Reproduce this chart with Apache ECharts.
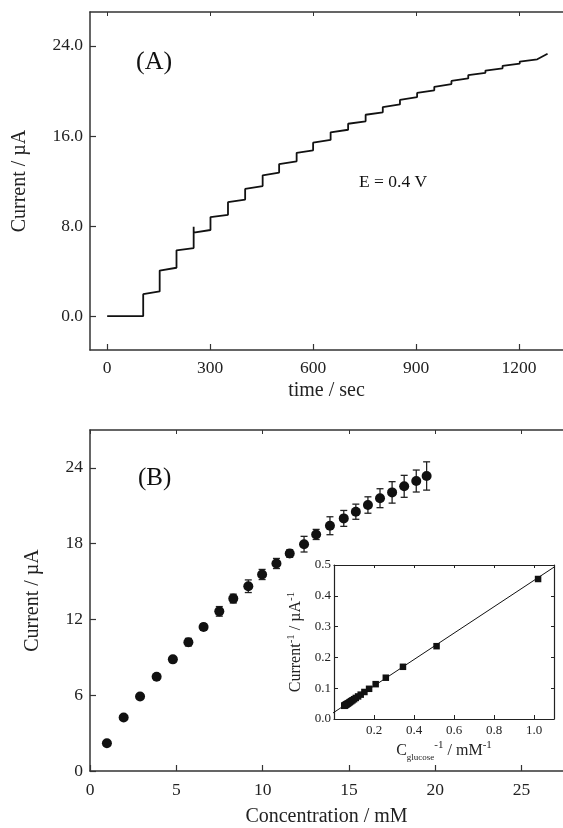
<!DOCTYPE html>
<html><head><meta charset="utf-8">
<script src="https://cdn.jsdelivr.net/npm/echarts@6/dist/echarts.min.js"></script>
<style>html,body{margin:0;padding:0;background:#fff}#c{width:563px;height:828px}</style>
</head><body><div id="c"></div>
<script>
const FONT = 'Liberation Serif';
// Panel A: amperometric staircase
const stepTimes = [105,153,202,252,301,352,402,453,501,552,600,651,702,753,803,853,903,953,1003,1052,1102,1152,1202,1253];
const plateauStart = [1.95,4.05,5.85,7.42,8.8,10.12,11.3,12.5,13.5,14.5,15.4,16.32,17.08,17.88,18.56,19.2,19.82,20.36,20.88,21.4,21.8,22.22,22.6,22.95];
const plateauEnd = [2.2,4.3,6.05,7.65,9.0,10.35,11.55,12.75,13.75,14.72,15.65,16.55,17.3,18.1,18.8,19.45,20.05,20.6,21.1,21.6,22.0,22.42,22.8,23.3];
const traceStart = [0, 0];
const traceEndTime = 1283;
const spikeStep = 3, spikeValue = 7.95;
const aXTicks = [0,300,600,900,1200];
const aYTicks = [0,8,16,24];
// Panel B: calibration
const conc = [0.98,1.95,2.9,3.86,4.8,5.7,6.58,7.49,8.3,9.17,9.97,10.8,11.57,12.4,13.1,13.9,14.7,15.4,16.1,16.8,17.5,18.2,18.9,19.5];
const current = [2.2,4.23,5.9,7.46,8.84,10.2,11.4,12.64,13.65,14.63,15.56,16.43,17.22,17.96,18.73,19.42,20.0,20.53,21.06,21.6,22.06,22.54,22.96,23.36];
const errs = [0.15,0.15,0.15,0.2,0.2,0.3,0.25,0.38,0.35,0.5,0.4,0.4,0.3,0.62,0.4,0.71,0.63,0.6,0.65,0.75,0.85,0.87,0.87,1.12];
const bXTicks = [0,5,10,15,20,25];
const bYTicks = [0,6,12,18,24];
// Inset: Lineweaver-Burk
const fitX = [-0.06, 1.1];
const fitY = [-0.004, 0.493];
const inXTicks = [0.2,0.4,0.6,0.8,1.0];
const inYTicks = [0,0.1,0.2,0.3,0.4,0.5];

// build staircase trace from step arrays
const trace = [traceStart];
let prev = 0;
stepTimes.forEach((t, i) => {
  trace.push([t, prev]);
  if (i === spikeStep) trace.push([t, spikeValue]);
  trace.push([t, plateauStart[i]]);
  const tEnd = i < stepTimes.length - 1 ? stepTimes[i + 1] : traceEndTime;
  trace.push([tEnd, plateauEnd[i]]);
  prev = plateauEnd[i];
});
const pts = conc.map((c, i) => [c, current[i]]);
const bars = conc.map((c, i) => [c, current[i] - errs[i], current[i] + errs[i]]);
const inv = conc.map((c, i) => [1 / c, 1 / current[i]]);

const AX = '#333';
function frameAxis(o) {
  const base = {
    type: 'value', splitLine: {show: false},
    axisLine: {show: true, onZero: false, lineStyle: {color: AX, width: 1.5}},
    axisTick: {show: true, inside: true, length: 6, lineStyle: {color: AX, width: 1.2}},
    axisLabel: {color: '#222', fontFamily: FONT, fontSize: 17.5},
    nameTextStyle: {color: '#222', fontFamily: FONT, fontSize: 20}
  };
  const r = Object.assign(base, o);
  r.axisLine = Object.assign({show: true, onZero: false}, r.axisLine, {onZero: false});
  return r;
}
const plain = v => String(v);

const option = {
  animation: false,
  backgroundColor: '#fff',
  grid: [
    {left: 90, top: 12, width: 473, height: 338, containLabel: false, outerBoundsMode: 'none'},
    {left: 90, top: 430, width: 473, height: 341, containLabel: false, outerBoundsMode: 'none'},
    {left: 334, top: 565, width: 220, height: 154, containLabel: false, outerBoundsMode: 'none'}
  ],
  xAxis: [
    frameAxis({gridIndex: 0, min: -50, max: 1328, position: 'bottom',
      axisTick: {show: true, inside: true, length: 6, customValues: aXTicks, lineStyle: {color: AX, width: 1.2}},
      axisLabel: {customValues: aXTicks, margin: 9, color: '#222', fontFamily: FONT, fontSize: 17.5, formatter: plain},
      name: 'time / sec', nameLocation: 'middle', nameGap: 31}),
    frameAxis({gridIndex: 0, min: -50, max: 1328, position: 'top',
      axisTick: {show: true, inside: true, length: 4, customValues: aXTicks, lineStyle: {color: AX, width: 1}},
      axisLabel: {show: false}}),
    frameAxis({gridIndex: 1, min: 0, max: 27.4, position: 'bottom',
      axisTick: {show: true, inside: true, length: 6, customValues: bXTicks, lineStyle: {color: AX, width: 1.2}},
      axisLabel: {customValues: bXTicks, margin: 10, color: '#222', fontFamily: FONT, fontSize: 17.5, formatter: plain},
      name: 'Concentration / mM', nameLocation: 'middle', nameGap: 36}),
    frameAxis({gridIndex: 1, min: 0, max: 27.4, position: 'top',
      axisTick: {show: true, inside: true, length: 4, customValues: bXTicks, lineStyle: {color: AX, width: 1}},
      axisLabel: {show: false}}),
    frameAxis({gridIndex: 2, min: 0, max: 1.1, position: 'bottom',
      axisLine: {show: true, lineStyle: {color: '#222', width: 1.2}},
      axisTick: {show: true, inside: true, length: 4, customValues: inXTicks, lineStyle: {color: '#222', width: 1}},
      axisLabel: {customValues: inXTicks, margin: 5, color: '#222', fontFamily: FONT, fontSize: 13, formatter: v => v.toFixed(1)},
      name: '{a|C}{sub|glucose}{sup|-1}{a| / mM}{sup|-1}', nameLocation: 'middle', nameGap: 21,
      nameTextStyle: {fontFamily: FONT, color: '#222', rich: {
        a: {fontFamily: FONT, fontSize: 16, color: '#222', lineHeight: 22, verticalAlign: 'middle'},
        sub: {fontFamily: FONT, fontSize: 9, color: '#222', lineHeight: 22, verticalAlign: 'bottom'},
        sup: {fontFamily: FONT, fontSize: 11, color: '#222', lineHeight: 22, verticalAlign: 'top'}}}}),
    frameAxis({gridIndex: 2, min: 0, max: 1.1, position: 'top',
      axisLine: {show: true, lineStyle: {color: '#222', width: 1.2}},
      axisTick: {show: true, inside: true, length: 3, customValues: inXTicks, lineStyle: {color: '#222', width: 1}},
      axisLabel: {show: false}})
  ],
  yAxis: [
    frameAxis({gridIndex: 0, min: -3, max: 27, position: 'left',
      axisTick: {show: true, inside: true, length: 6, customValues: aYTicks, lineStyle: {color: AX, width: 1.2}},
      axisLabel: {customValues: aYTicks, margin: 7, color: '#222', fontFamily: FONT, fontSize: 17.5, formatter: v => v.toFixed(1)},
      name: 'Current / µA', nameLocation: 'middle', nameGap: 60}),
    frameAxis({gridIndex: 1, min: 0, max: 27, position: 'left',
      axisTick: {show: true, inside: true, length: 6, customValues: bYTicks, lineStyle: {color: AX, width: 1.2}},
      axisLabel: {customValues: bYTicks, margin: 7, color: '#222', fontFamily: FONT, fontSize: 17.5, formatter: plain},
      name: 'Current / µA', nameLocation: 'middle', nameGap: 47}),
    frameAxis({gridIndex: 2, min: 0, max: 0.5, position: 'left',
      axisLine: {show: true, lineStyle: {color: '#222', width: 1.2}},
      axisTick: {show: true, inside: true, length: 4, customValues: inYTicks, lineStyle: {color: '#222', width: 1}},
      axisLabel: {customValues: inYTicks, margin: 3, color: '#222', fontFamily: FONT, fontSize: 13, formatter: v => v.toFixed(1)},
      name: '{a|Current}{sup|-1}{a| / µA}{sup|-1}', nameLocation: 'middle', nameGap: 28,
      nameTextStyle: {fontFamily: FONT, color: '#222', rich: {
        a: {fontFamily: FONT, fontSize: 16, color: '#222', lineHeight: 20, verticalAlign: 'middle'},
        sup: {fontFamily: FONT, fontSize: 11, color: '#222', lineHeight: 20, verticalAlign: 'top'}}}}),
    frameAxis({gridIndex: 2, min: 0, max: 0.5, position: 'right',
      axisLine: {show: true, lineStyle: {color: '#222', width: 1.2}},
      axisTick: {show: true, inside: true, length: 3, customValues: inYTicks, lineStyle: {color: '#222', width: 1}},
      axisLabel: {show: false}})
  ],
  graphic: [
    {type: 'text', left: 136, top: 49, style: {text: '(A)', font: '26px "Liberation Serif"', fill: '#111'}},
    {type: 'text', left: 138, top: 466, style: {text: '(B)', font: '25px "Liberation Serif"', fill: '#111'}},
    {type: 'text', left: 359, top: 173, style: {text: 'E = 0.4 V', font: '17.5px "Liberation Serif"', fill: '#111'}}
  ],
  series: [
    {type: 'line', xAxisIndex: 0, yAxisIndex: 0, data: trace, showSymbol: false, symbol: 'none',
      lineStyle: {color: '#111', width: 1.8}},
    {type: 'custom', xAxisIndex: 2, yAxisIndex: 1, data: bars, encode: {x: 0, y: [1, 2]},
      renderItem: (params, api) => {
        const x = api.value(0);
        const lo = api.coord([x, api.value(1)]);
        const hi = api.coord([x, api.value(2)]);
        const w = 3.5;
        const st = {stroke: '#222', lineWidth: 1.3};
        return {type: 'group', children: [
          {type: 'line', shape: {x1: lo[0], y1: lo[1], x2: hi[0], y2: hi[1]}, style: st},
          {type: 'line', shape: {x1: lo[0] - w, y1: lo[1], x2: lo[0] + w, y2: lo[1]}, style: st},
          {type: 'line', shape: {x1: hi[0] - w, y1: hi[1], x2: hi[0] + w, y2: hi[1]}, style: st}
        ]};
      }},
    {type: 'scatter', xAxisIndex: 2, yAxisIndex: 1, data: pts, symbol: 'circle', symbolSize: 10,
      itemStyle: {color: '#111', opacity: 1}, z: 3},
    {type: 'line', xAxisIndex: 4, yAxisIndex: 2, data: fitX.map((x, i) => [x, fitY[i]]), showSymbol: false,
      symbol: 'none', clip: false, lineStyle: {color: '#111', width: 1}},
    {type: 'scatter', xAxisIndex: 4, yAxisIndex: 2, data: inv, symbol: 'rect', symbolSize: 6.5,
      itemStyle: {color: '#111', opacity: 1}, z: 3}
  ]
};
const chart = echarts.init(document.getElementById('c'));
chart.setOption(option);
</script></body></html>
